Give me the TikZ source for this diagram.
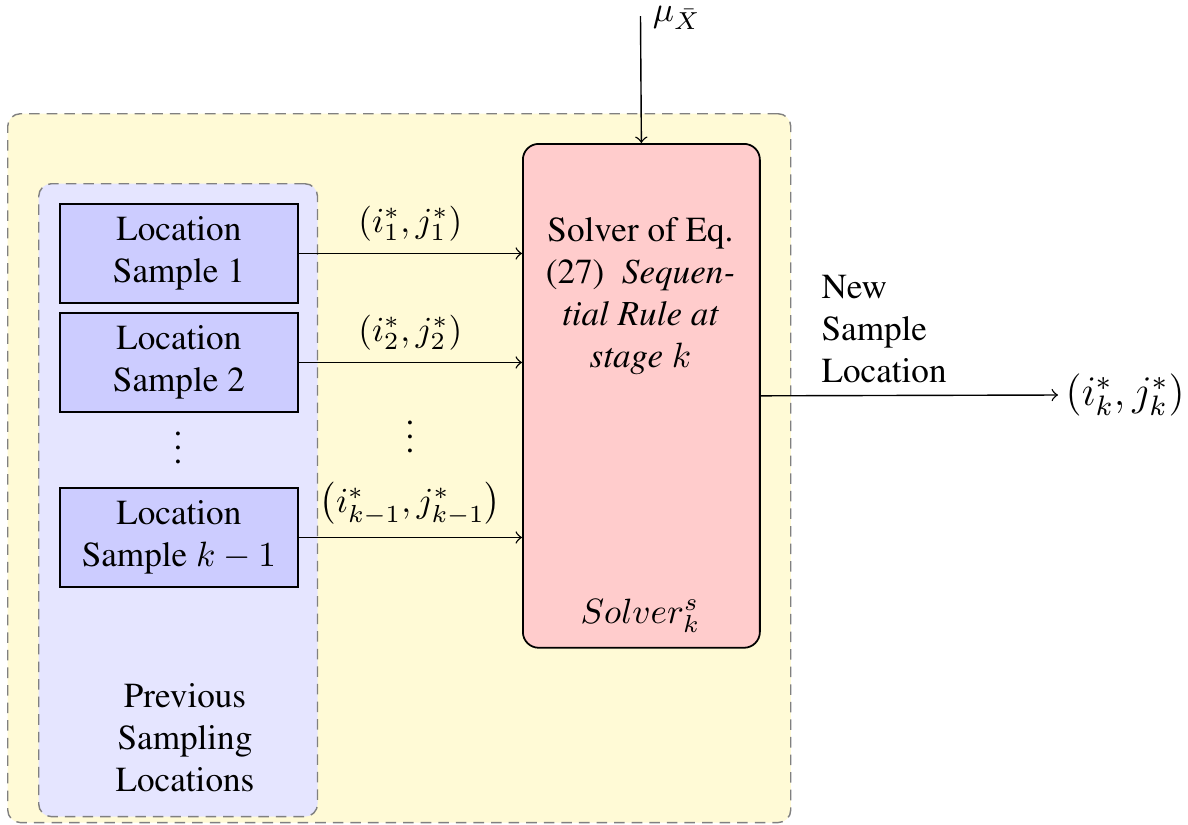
\documentclass[tikz,border=0pt]{standalone}
\usepackage[T1]{fontenc}
\usepackage{times}
\definecolor{outerfill}{RGB}{255,250,214}
\begin{document}
\begin{tikzpicture}[x=0.2844pt, y=-0.2844pt,
  group/.style={draw=gray, dash pattern=on 3pt off 2pt, rounded corners=3.6pt,
    anchor=north west, inner sep=0pt},
  samplebox/.style={draw, line width=0.5pt, fill=blue!20, anchor=north west,
    minimum width=67.7pt, minimum height=28.2pt, inner sep=0pt, align=center},
  solverbox/.style={draw, line width=0.5pt, fill=red!20, rounded corners=4.5pt,
    anchor=north west, minimum width=67.4pt, minimum height=143.3pt, inner sep=0pt},
  flow/.style={->}
]
\useasboundingbox (0,0) rectangle (1188,825);

% grouping panels
\node[group, fill=outerfill, minimum width=222.7pt, minimum height=201.6pt] (outer) at (7,113) {};
\node[group, fill=blue!10, minimum width=79.3pt, minimum height=180.0pt] (inner) at (38,183) {};

% previous samples
\node[samplebox] (s1) at (59,203) {Location\\Sample 1};
\node[samplebox] (s2) at (59,312) {Location\\Sample 2};
\node[samplebox] (s3) at (59,487) {Location\\Sample $k-1$};
\node (ldots) at (178,437.5) {$\vdots$};
\node[align=center] (prev) at (185,738) {Previous\\Sampling\\Locations};

% solver
\node[solverbox] (solver) at (522,143) {};
\node[align=center] (solvertext) at (640.5,296)
  {Solver of Eq.\\(27)~ \textit{Sequen-}\\\textit{tial Rule at}\\\textit{stage $k$}};
\node[anchor=base] (solvername) at (640.5,623) {$Solver_k^s$};

% inputs to the solver
\draw[flow] (s1.east) -- (s1.east -| solver.west) node[midway, above] {$(i_1^*, j_1^*)$};
\draw[flow] (s2.east) -- (s2.east -| solver.west) node[midway, above] {$(i_2^*, j_2^*)$};
\draw[flow] (s3.east) -- (s3.east -| solver.west) node[midway, above] {$\left(i_{k-1}^*, j_{k-1}^*\right)$};
\node (mdots) at (410,426.5) {$\vdots$};

% mean input from above
\coordinate (mutop) at (640.5,16);
\node[anchor=west] (mu) at ([yshift=-0.6pt]mutop) {$\mu_{\bar{X}}$};
\draw[flow] (mutop) -- (solver.north);

% output
\node[anchor=west, inner sep=2pt, font=\fontsize{11.6pt}{14pt}\selectfont] (out) at (1058,395) {$(i_k^*, j_k^*)$};
\draw[flow] (solver.east) -- (out.west) node[pos=0.415, above, align=left] {New\\Sample\\Location};
\end{tikzpicture}
\end{document}
